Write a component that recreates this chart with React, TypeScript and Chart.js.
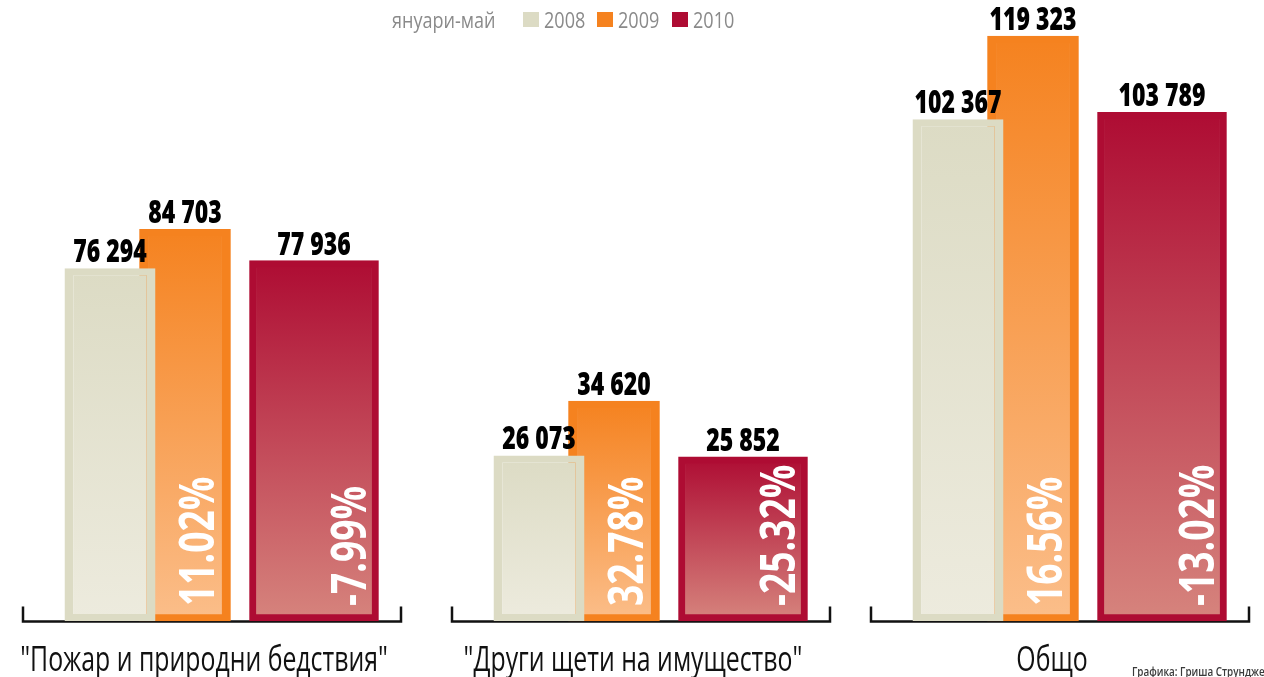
import React, { useEffect, useRef } from 'react';
import { Chart, registerables } from 'chart.js';

Chart.register(...registerables);

// ---- data ----
const categories = ['"Пожар и природни бедствия"', '"Други щети на имущество"', 'Общо'];
const years = ['2008', '2009', '2010'];
const values2008 = [76294, 26073, 102367];
const values2009 = [84703, 34620, 119323];
const values2010 = [77936, 25852, 103789];
const change2009 = [11.02, 32.78, 16.56];
const change2010 = [-7.99, -25.32, -13.02];
// each group of the original infographic uses its own vertical scale
const groupScaleMax = [134300, 97800, 126700];
const periodLabel = 'януари-май';
const credit = 'Графика: Гриша Струндже';

// ---- style ----
const FONT = '"Open Sans", "Noto Sans", sans-serif';
const yearColors = [
  { border: '#DCDBC4', top: '#DCDBC4', bottom: '#EDEBDE' },
  { border: '#F5821F', top: '#F5821F', bottom: '#FBBE8A' },
  { border: '#AE0C33', top: '#AE0C33', bottom: '#D6847D' },
];
const CANVAS_W = 420;
const CANVAS_H = 677;
const PAD_L = 20;
const PAD_R = 74;
const PAD_B = 56;
const BRACKET_EXTRA_R = 54;
const groupLefts = [2, 431, 850];

const formatThousands = (v: number) => String(v).replace(/\B(?=(\d{3})+(?!\d))/g, ' ');
const formatPct = (v: number) => v.toFixed(2) + '%';

const gradient = (top: string, bottom: string) => (ctx: any) => {
  const chart = ctx.chart;
  const area = chart.chartArea;
  if (!area || ctx.type !== 'data' || !chart.scales.y) return top;
  const y = chart.scales.y.getPixelForValue(ctx.raw);
  const g = chart.ctx.createLinearGradient(0, y, 0, area.bottom);
  g.addColorStop(0, top);
  g.addColorStop(1, bottom);
  return g;
};

const bracketPlugin = {
  id: 'bracket',
  beforeDatasetsDraw(chart: any, _args: any, opts: any) {
    const { ctx, chartArea: a } = chart;
    const y = a.bottom + 0.5;
    const l = a.left + 1;
    const r = a.right + BRACKET_EXTRA_R - 1;
    ctx.save();
    ctx.strokeStyle = '#111';
    ctx.lineWidth = 2.5;
    ctx.beginPath();
    ctx.moveTo(l, y - 15);
    ctx.lineTo(l, y);
    ctx.lineTo(r, y);
    ctx.lineTo(r, y - 15);
    ctx.stroke();
    // category label under the bracket
    ctx.font = `34px ${FONT}`;
    ctx.fillStyle = '#111';
    ctx.textAlign = 'center';
    ctx.textBaseline = 'alphabetic';
    ctx.translate((l + r) / 2 - 8, 671);
    ctx.scale(0.73, 1);
    ctx.fillText(opts.label, 0, 0);
    ctx.restore();
  },
};

const labelsPlugin = {
  id: 'barLabels',
  afterDatasetsDraw(chart: any, _args: any, opts: any) {
    const { ctx, chartArea: a } = chart;
    chart.data.datasets.forEach((ds: any, di: number) => {
      const bar: any = chart.getDatasetMeta(di).data[0];
      if (!bar) return;
      const v = ds.data[0] as number;
      ctx.save();
      ctx.font = `800 32px ${FONT}`;
      ctx.fillStyle = '#000';
      ctx.textAlign = 'center';
      ctx.textBaseline = 'alphabetic';
      ctx.translate(bar.x, bar.y - 6);
      ctx.scale(0.72, 1);
      ctx.fillText(formatThousands(v), 0, 0);
      ctx.restore();

      const pct = opts.changes[di];
      if (pct !== null && pct !== undefined) {
        const right = bar.x + bar.width / 2;
        ctx.save();
        ctx.font = `bold 49px ${FONT}`;
        ctx.fillStyle = '#fff';
        ctx.textAlign = 'left';
        ctx.textBaseline = 'alphabetic';
        ctx.translate(right - opts.insets[di], a.bottom - 15);
        ctx.rotate(-Math.PI / 2);
        ctx.scale(0.76, 1);
        ctx.fillText(formatPct(pct), 0, 0);
        ctx.restore();
      }
    });
  },
};

function GroupChart({ index }: { index: number }) {
  const ref = useRef<HTMLCanvasElement>(null);
  useEffect(() => {
    const canvas = ref.current!;
    const areaW = CANVAS_W - PAD_L - PAD_R;
    const series = [values2008, values2009, values2010];
    const chart = new Chart(canvas, {
      type: 'bar',
      data: {
        labels: [categories[index]],
        datasets: series.map((vals, di) => {
          const c = yearColors[di];
          const base: any = {
            label: years[di],
            data: [vals[index]],
            backgroundColor: gradient(c.top, c.bottom),
            borderColor: c.border,
            borderSkipped: false,
            clip: false,
          };
          if (di === 0) {
            base.categoryPercentage = (3 * 75) / areaW;
            base.barPercentage = 91 / 75;
            base.borderWidth = { top: 7, bottom: 7, left: 9, right: 9 };
          } else if (di === 1) {
            base.barThickness = 91;
            base.borderWidth = { top: 7, bottom: 7, left: 9, right: 9 };
          } else {
            base.barThickness = 129;
            base.borderWidth = 7;
          }
          return base;
        }),
      },
      options: {
        animation: false,
        responsive: false,
        devicePixelRatio: 1,
        layout: { padding: { left: PAD_L, right: PAD_R, top: 0, bottom: PAD_B } },
        plugins: {
          legend: { display: false },
          tooltip: { enabled: false },
          bracket: { label: categories[index] },
          barLabels: {
            changes: [null, change2009[index], change2010[index]],
            insets: [0, 17, 13],
          },
        } as any,
        scales: {
          x: { display: false },
          y: { display: false, min: 0, max: groupScaleMax[index] },
        },
      },
      plugins: [bracketPlugin, labelsPlugin],
    } as any);
    return () => chart.destroy();
  }, [index]);
  return (
    <canvas
      ref={ref}
      width={CANVAS_W}
      height={CANVAS_H}
      style={{ position: 'absolute', left: groupLefts[index], top: 0, width: CANVAS_W, height: CANVAS_H }}
    />
  );
}

const legendTextStyle: React.CSSProperties = {
  position: 'absolute',
  top: 5,
  fontFamily: FONT,
  fontSize: 22,
  lineHeight: '28px',
  color: '#8a8a8a',
  whiteSpace: 'nowrap',
  transform: 'scaleX(0.82)',
  transformOrigin: 'left center',
};
const legendSquareLefts = [523, 597, 672];

export default function App() {
  return (
    <div
      style={{
        position: 'absolute',
        left: 0,
        top: 0,
        width: 1264,
        height: 677,
        overflow: 'hidden',
        background: '#fff',
      }}
    >
      {categories.map((_, i) => (
        <GroupChart key={i} index={i} />
      ))}
      <span style={{ ...legendTextStyle, left: 392 }}>{periodLabel}</span>
      {years.map((y, i) => (
        <React.Fragment key={y}>
          <span
            style={{
              position: 'absolute',
              left: legendSquareLefts[i],
              top: 12,
              width: 16,
              height: 15,
              background: yearColors[i].border,
            }}
          />
          <span style={{ ...legendTextStyle, left: legendSquareLefts[i] + 21 }}>{y}</span>
        </React.Fragment>
      ))}
      <div
        style={{
          position: 'absolute',
          left: 1132,
          top: 661,
          fontFamily: FONT,
          fontSize: 13,
          fontWeight: 600,
          color: '#3a3a3a',
          lineHeight: '20px',
          whiteSpace: 'nowrap',
          transform: 'scaleX(0.76)',
          transformOrigin: 'left center',
        }}
      >
        {credit}
      </div>
    </div>
  );
}
